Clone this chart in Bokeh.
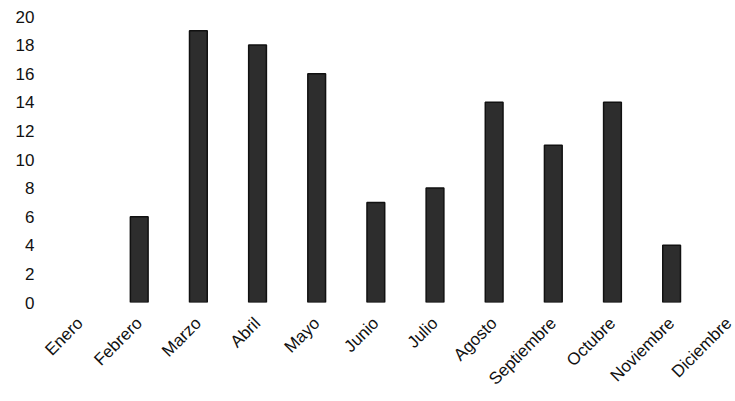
import math
from bokeh.plotting import figure
from bokeh.models import Range1d, FixedTicker, ColumnDataSource, CDSView, BooleanFilter
from bokeh.embed import file_html
from bokeh.resources import INLINE

months = ["Enero", "Febrero", "Marzo", "Abril", "Mayo", "Junio", "Julio",
          "Agosto", "Septiembre", "Octubre", "Noviembre", "Diciembre"]
values = [0, 6, 19, 18, 16, 7, 8, 14, 11, 14, 4, 0]
y_ticks = [0, 2, 4, 6, 8, 10, 12, 14, 16, 18, 20]

positions = list(range(len(months)))
src = ColumnDataSource(dict(x=positions, top=values, name=months))
view = CDSView(filter=BooleanFilter([v > 0 for v in values]))

p = figure(width=735, height=401, output_backend="svg", toolbar_location=None,
           x_range=Range1d(-0.5, 11.08), y_range=Range1d(0, 20))
p.min_border_left = 50
p.min_border_right = 0
p.min_border_top = 16
p.min_border_bottom = 99
p.outline_line_color = None
p.background_fill_color = "white"
p.border_fill_color = "white"
p.xgrid.visible = False
p.ygrid.visible = False

p.vbar(x="x", top="top", bottom=0, width=0.3, source=src, view=view,
       fill_color="#2d2d2d", line_color="#111111", line_width=1.5)

font = "Liberation Sans"
p.yaxis.ticker = FixedTicker(ticks=y_ticks)
p.yaxis.axis_line_color = None
p.yaxis.major_tick_line_color = None
p.yaxis.minor_tick_line_color = None
p.yaxis.major_tick_out = 0
p.yaxis.major_tick_in = 0
p.yaxis.major_label_standoff = 16
p.yaxis.major_label_text_font = font
p.yaxis.major_label_text_font_size = "17px"
p.yaxis.major_label_text_color = "#111111"

p.xaxis.ticker = FixedTicker(ticks=positions)
p.xaxis.major_label_overrides = {i: m for i, m in zip(positions, months)}
p.xaxis.axis_line_color = None
p.xaxis.major_tick_line_color = None
p.xaxis.minor_tick_line_color = None
p.xaxis.major_tick_out = 0
p.xaxis.major_tick_in = 0
p.xaxis.major_label_standoff = 18
p.xaxis.major_label_orientation = math.pi / 4
p.xaxis.major_label_text_font = font
p.xaxis.major_label_text_font_size = "17px"
p.xaxis.major_label_text_color = "#111111"

open("out.html", "w").write(file_html(p, INLINE))
